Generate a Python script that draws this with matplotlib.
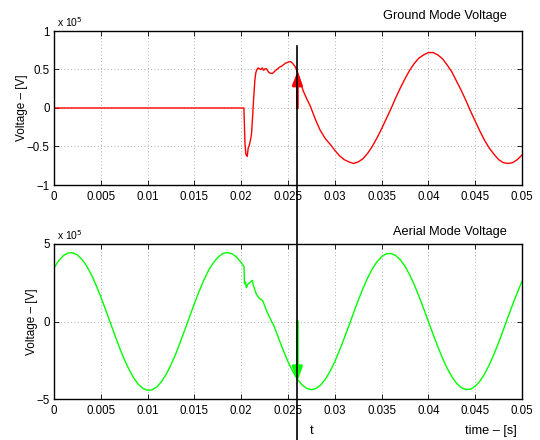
import numpy as np
import matplotlib
matplotlib.use("Agg")
import matplotlib.pyplot as plt
from matplotlib.lines import Line2D
import matplotlib.transforms as mtransforms

plt.rcParams['font.family'] = ['Liberation Sans', 'DejaVu Sans']

# ---- data (time in ms, voltage in units of 1e5 V) ----
ground_t_ms = [0, 20.29, 20.4, 20.5, 20.64, 20.75, 20.85, 21.0, 21.1, 21.2, 21.28, 21.37,
               21.46, 21.55, 21.64, 21.8, 21.95, 22.1, 22.25, 22.4, 22.55, 22.7, 22.9,
               23.1, 23.35, 23.6, 23.8, 24.1, 24.4, 24.7, 25.1, 25.3, 25.5, 25.8, 26.0,
               26.3, 26.6, 27.0, 27.4, 27.9, 28.4, 29.0, 29.5, 30.0, 30.5, 31.0, 31.5,
               32.0, 32.5, 33.0, 33.5, 34.0, 34.5, 35.0, 35.5, 36.0, 36.5, 37.0, 37.5,
               38.0, 38.5, 39.0, 39.5, 40.0, 40.5, 41.0, 41.5, 42.0, 42.5, 43.0, 43.5,
               44.0, 44.5, 45.0, 45.5, 46.0, 46.5, 47.0, 47.5, 48.0, 48.5, 49.0, 49.5, 50.0]
ground_v = [0, 0, -0.45, -0.60, -0.63, -0.52, -0.49, -0.41, -0.34, -0.15, 0.02, 0.20,
            0.36, 0.45, 0.49, 0.52, 0.51, 0.50, 0.52, 0.49, 0.51, 0.51, 0.47,
            0.45, 0.45, 0.48, 0.50, 0.53, 0.55, 0.58, 0.60, 0.60, 0.58, 0.53, 0.47,
            0.36, 0.23, 0.12, 0.02, -0.14, -0.28, -0.40, -0.47, -0.55, -0.62, -0.67, -0.70,
            -0.72, -0.70, -0.66, -0.59, -0.50, -0.39, -0.27, -0.14, -0.01, 0.13, 0.26, 0.38,
            0.49, 0.58, 0.65, 0.69, 0.72, 0.72, 0.69, 0.64, 0.56, 0.47, 0.35, 0.23,
            0.10, -0.04, -0.17, -0.30, -0.42, -0.52, -0.60, -0.67, -0.71, -0.72, -0.71, -0.67, -0.61]

aerial_t_ms = [0, 0.5, 1.0, 1.5, 2.0, 2.5, 3.0, 3.5, 4.0, 4.5, 5.0, 5.5, 6.0, 6.5, 7.0,
               7.5, 8.0, 8.5, 9.0, 9.5, 10.0, 10.5, 11.0, 11.5, 12.0, 12.5, 13.0, 13.5,
               14.0, 14.5, 15.0, 15.5, 16.0, 16.5, 17.0, 17.5, 18.0, 18.5, 19.0, 19.5,
               20.0, 20.3, 20.35, 20.45, 20.55, 20.7, 20.9, 21.2, 21.3, 21.6, 21.8, 22.0,
               22.3, 22.7, 23.25, 23.5, 24.0, 24.5, 25.0, 25.5, 26.0, 26.5, 27.0, 27.5,
               28.0, 28.5, 29.0, 29.5, 30.0, 30.5, 31.0, 31.5, 32.0, 32.5, 33.0, 33.5,
               34.0, 34.5, 35.0, 35.5, 36.0, 36.5, 37.0, 37.5, 38.0, 38.5, 39.0, 39.5,
               40.0, 40.5, 41.0, 41.5, 42.0, 42.5, 43.0, 43.5, 44.0, 44.5, 45.0, 45.5,
               46.0, 46.5, 47.0, 47.5, 48.0, 48.5, 49.0, 49.5, 50.0]
aerial_v = [3.46, 3.92, 4.25, 4.42, 4.44, 4.30, 4.00, 3.57, 3.01, 2.34, 1.59, 0.78, -0.05,
            -0.89, -1.69, -2.43, -3.08, -3.63, -4.05, -4.32, -4.44, -4.41, -4.21, -3.87,
            -3.39, -2.79, -2.10, -1.32, -0.50, 0.33, 1.16, 1.94, 2.66, 3.28, 3.77, 4.14,
            4.37, 4.45, 4.38, 4.16, 3.80, 3.54, 2.44, 2.55, 2.18, 2.40, 2.50, 2.66, 2.33,
            1.79, 1.60, 1.46, 1.35, 0.70, 0.0, -0.28, -1.09, -1.87, -2.59, -3.21, -3.72,
            -4.09, -4.32, -4.40, -4.32, -4.09, -3.72, -3.21, -2.59, -1.87, -1.09, -0.28,
            0.55, 1.36, 2.12, 2.80, 3.39, 3.85, 4.18, 4.37, 4.39, 4.26, 3.98, 3.56, 3.01,
            2.36, 1.62, 0.82, 0.00, -0.82, -1.62, -2.36, -3.01, -3.56, -3.98, -4.26, -4.39,
            -4.37, -4.18, -3.85, -3.39, -2.80, -2.12, -1.36, -0.55, 0.28, 1.09, 1.87, 2.59]

t_event = 0.026
ground_arrow_tip = 0.47
aerial_arrow_tip = -3.88

x_ticks = [0, 0.005, 0.01, 0.015, 0.02, 0.025, 0.03, 0.035, 0.04, 0.045, 0.05]
x_ticklabels = ['0', '0.005', '0.01', '0.015', '0.02', '0.025', '0.03', '0.035', '0.04', '0.045', '0.05']
g_yticks = [-1, -0.5, 0, 0.5, 1]
g_yticklabels = ['\u22121', '\u22120.5', '0', '0.5', '1']
a_yticks = [-5, 0, 5]
a_yticklabels = ['\u22125', '0', '5']

fig = plt.figure(figsize=(5.4, 4.4), dpi=100)
W, H = 540, 440
def ax_rect(x0, y0, x1, y1):
    return [x0 / W, 1 - y1 / H, (x1 - x0) / W, (y1 - y0) / H]

ax1 = fig.add_axes(ax_rect(54, 31, 522, 185))
ax2 = fig.add_axes(ax_rect(54, 244, 522, 399))

gt = np.array(ground_t_ms) / 1000.0
at = np.array(aerial_t_ms) / 1000.0
ax1.plot(gt, ground_v, color='#ff0000', lw=1.0)
ax2.plot(at, aerial_v, color='#00ff00', lw=1.0)

for ax, yt, ytl in [(ax1, g_yticks, g_yticklabels), (ax2, a_yticks, a_yticklabels)]:
    ax.set_xlim(0, 0.05)
    ax.set_ylim(yt[0], yt[-1])
    ax.set_xticks(x_ticks)
    ax.set_xticklabels(x_ticklabels)
    ax.set_yticks(yt)
    ax.set_yticklabels(ytl)
    ax.tick_params(direction='in', top=True, right=True, length=3.5, width=0.6,
                   labelsize=8.3)
    ax.tick_params(axis='x', pad=4.5)
    ax.tick_params(axis='y', pad=3)
    ax.grid(True, linestyle=(0, (1, 3)), color='#999999', lw=0.6)
    for s in ax.spines.values():
        s.set_linewidth(1.0)
    ax.set_ylabel('Voltage \u2013 [V]', fontsize=8.5, labelpad=-1)
    ax.text(0.006, 1.015, 'x 10$^{5}$', transform=ax.transAxes, fontsize=7.5,
            ha='left', va='bottom')

ax1.text(445 / W, 1 - 16 / H, 'Ground Mode Voltage', transform=fig.transFigure,
         fontsize=9.2, ha='center', va='center')
ax2.text(450 / W, 1 - 232 / H, 'Aerial Mode Voltage', transform=fig.transFigure,
         fontsize=9.2, ha='center', va='center')

ax1.annotate('', xy=(t_event, ground_arrow_tip), xytext=(t_event, 0),
             arrowprops=dict(arrowstyle='-|>,head_length=0.75,head_width=0.3',
                             color='#ff0000', lw=2, shrinkA=0, shrinkB=0))
ax2.annotate('', xy=(t_event, aerial_arrow_tip), xytext=(t_event, 0),
             arrowprops=dict(arrowstyle='-|>,head_length=0.85,head_width=0.3',
                             color='#00ff00', lw=2, shrinkA=0, shrinkB=0))

trans = mtransforms.blended_transform_factory(ax1.transData, fig.transFigure)
fig.add_artist(Line2D([t_event, t_event], [1 - 46 / H, 0], transform=trans,
                      color='black', lw=1.2, zorder=10))

fig.text(312 / W, 1 - 431 / H, 't', fontsize=9.5, ha='center', va='center')
fig.text(491 / W, 1 - 431 / H, 'time \u2013 [s]', fontsize=9.2, ha='center', va='center')

fig.savefig('out.png', dpi=100)
